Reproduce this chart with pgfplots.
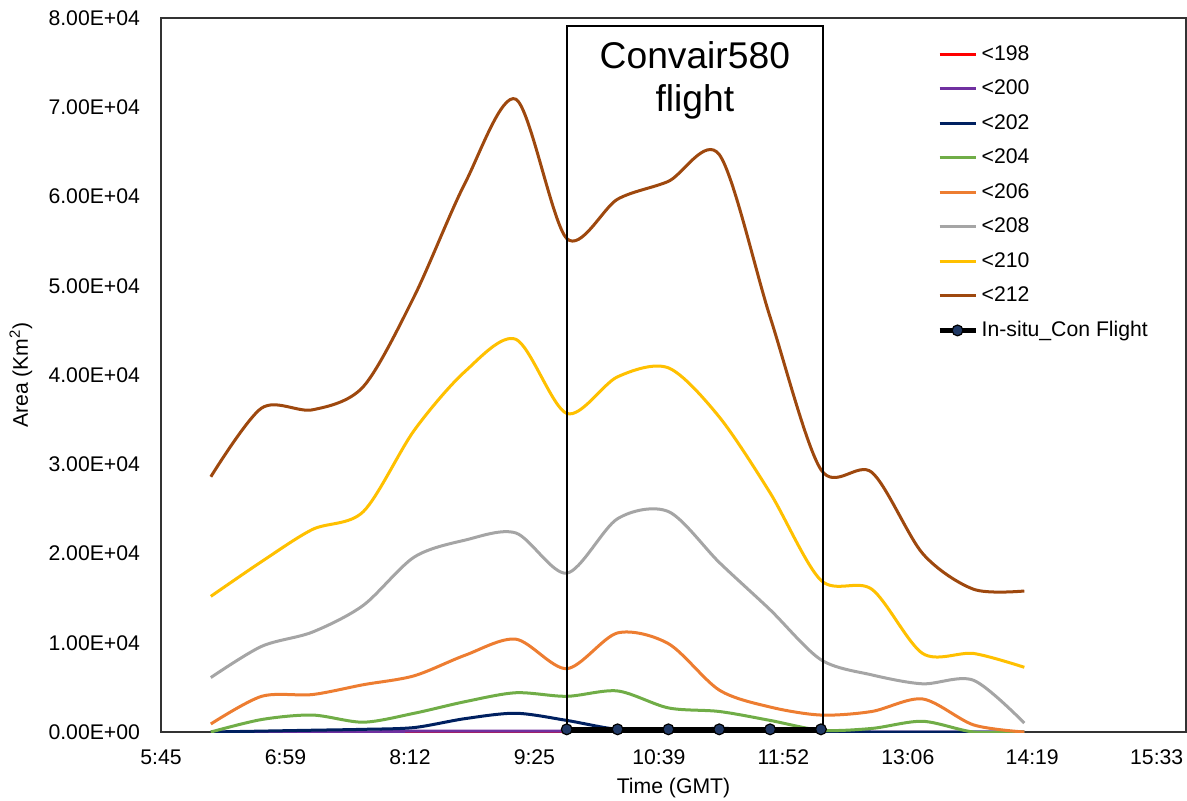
\documentclass[border=0pt]{standalone}
\usepackage{pgfplots}
\pgfplotsset{compat=1.18}
\usepackage{pgfplotstable}
\usepackage{fontspec}
\setmainfont{Liberation Sans}
\definecolor{c198}{HTML}{FF0000}
\definecolor{c200}{HTML}{7030A0}
\definecolor{c202}{HTML}{002060}
\definecolor{c204}{HTML}{70AD47}
\definecolor{c206}{HTML}{ED7D31}
\definecolor{c208}{HTML}{A5A5A5}
\definecolor{c210}{HTML}{FFC000}
\definecolor{c212}{HTML}{9E480E}
\definecolor{cmark}{HTML}{203864}

\pgfplotstableread{
t   r198 p200 n202 g204 o206  a208  y210  b212
375 0    0    0    0    900   6100  15200 28600
405 0    0    100  1400 4000  9600  19100 36300
435 0    0    200  1900 4200  11200 22700 36100
465 0    0    300  1100 5300  14200 24700 38700
495 0    100  500  2100 6300  19600 33800 48800
525 0    100  1500 3400 8600  21500 40400 61500
555 0    100  2100 4400 10400 22300 44000 70900
585 0    100  1300 4000 7100  17800 35700 55300
615 0    0    300  4600 11100 23900 39800 59700
645 0    0    300  2700 9900  24700 40800 61700
675 0    0    400  2300 4700  19000 35300 64700
705 0    0    300  1300 2800  13700 26800 46500
735 0    0    100  200  1900  8100  17000 29400
765 0    0    0    400  2300  6400  16000 29100
795 0    0    0    1200 3700  5400  8800  20000
825 0    0    0    0    800   5800  8800  16000
855 0    0    0    0    0     1000  7250  15800
}\data

\pgfplotstableread{
t   v
585 300
615 300
645 300
675 300
705 300
735 300
}\insitu

\begin{document}
\begin{tikzpicture}
\useasboundingbox (-80.5pt,-34pt) rectangle (513pt,366pt);
\begin{axis}[
  at={(0pt,0pt)}, anchor=south west,
  width=512.5pt, height=357pt, scale only axis,
  xmin=345.6, xmax=950.4, ymin=0, ymax=80000,
  xtick={345.6,419.04,492.48,565.92,639.36,712.8,786.24,859.68,933.12},
  xticklabels={5:45,6:59,8:12,9:25,10:39,11:52,13:06,14:19,15:33},
  ytick={0,10000,20000,30000,40000,50000,60000,70000,80000},
  yticklabels={0.00E+00,1.00E+04,2.00E+04,3.00E+04,4.00E+04,5.00E+04,6.00E+04,7.00E+04,8.00E+04},
  scaled y ticks=false,
  major tick length=0pt,
  axis line style={black!80, line width=0.6pt},
  tick label style={font=\fontsize{10.6}{12}\selectfont},
  xticklabel style={yshift=-5.5pt},
  yticklabel style={xshift=-7pt},
  xlabel={Time (GMT)},
  ylabel={Area (Km\textsuperscript{2})},
  label style={font=\fontsize{10.6}{12}\selectfont},
  xlabel style={at={(axis description cs:0.5,-0.0784)}, anchor=center},
  ylabel style={at={(axis description cs:-0.1366,0.5)}, anchor=center},
  legend style={at={(rel axis cs:0.757,0.963)}, anchor=north west, draw=none, fill=none,
    inner sep=0pt, row sep=7.65pt, column sep=2pt,
    font=\fontsize{10.6}{12}\selectfont,
    nodes={inner sep=0pt, text height=7.6pt, text depth=2pt}},
  legend cell align=left,
  legend image code/.code={\draw[mark repeat=2,mark phase=2,#1] plot coordinates {(0pt,0pt) (9pt,0pt) (18pt,0pt)};},
  every axis plot/.append style={line width=1.5pt, smooth, tension=0.5},
]
\addplot[c198, no markers] table[x=t,y=r198]{\data};
\addlegendentry{<198}
\addplot[c200, no markers] table[x=t,y=p200]{\data};
\addlegendentry{<200}
\addplot[c202, no markers] table[x=t,y=n202]{\data};
\addlegendentry{<202}
\addplot[c204, no markers] table[x=t,y=g204]{\data};
\addlegendentry{<204}
\addplot[c206, no markers] table[x=t,y=o206]{\data};
\addlegendentry{<206}
\addplot[c208, no markers] table[x=t,y=a208]{\data};
\addlegendentry{<208}
\addplot[c210, no markers] table[x=t,y=y210]{\data};
\addlegendentry{<210}
\addplot[c212, no markers] table[x=t,y=b212]{\data};
\addlegendentry{<212}
\addplot[black, line width=2.2pt, sharp plot, mark=*, mark size=2.7pt, mark options={fill=cmark, draw=black, line width=0.6pt}] table[x=t,y=v]{\insitu};
\addlegendentry{In-situ\_Con Flight}
\draw[black, line width=1pt] (axis cs:585.1,0) rectangle (axis cs:736.1,79100);
\node[align=center, font=\fontsize{18.6}{21.5}\selectfont] at (axis cs:660.6,73050) {Convair580\\flight};
\end{axis}
\end{tikzpicture}
\end{document}
